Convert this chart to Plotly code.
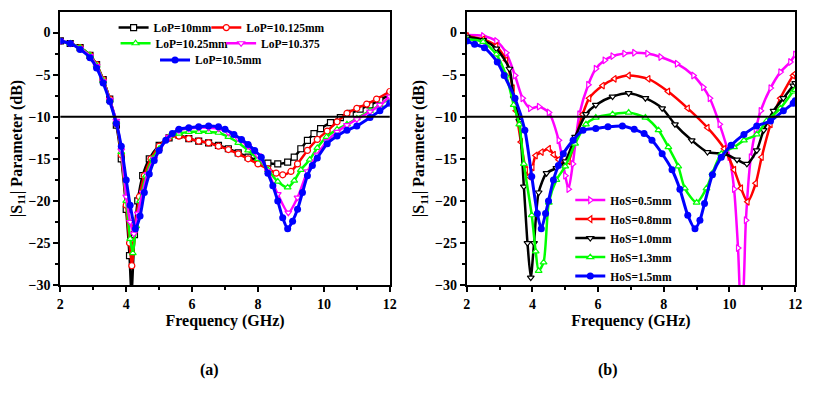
"""Return loss |S11| vs frequency for LoP and HoS parameter sweeps."""

import plotly.graph_objects as go

FONT = "Liberation Serif"

# ---- panel (a): LoP sweep ----
LOP_NAMES = ["LoP=10mm", "LoP=10.125mm", "LoP=10.25mm", "LoP=10.375", "LoP=10.5mm"]

lop10_f = [2.0, 2.3, 2.6, 2.9, 3.1, 3.3, 3.5, 3.7, 3.85, 4.0, 4.1, 4.16, 4.25, 4.35, 4.5, 4.7, 5.0, 5.3,
           5.6, 5.9, 6.2, 6.5, 6.8, 7.1, 7.4, 7.7, 8.0, 8.3, 8.6, 8.9, 9.1, 9.3, 9.5, 9.7, 9.9, 10.2,
           10.5, 10.8, 11.1, 11.4, 11.7, 12.0]
lop10_s = [-1.0, -1.3, -1.8, -2.7, -3.8, -5.6, -7.9, -11.0, -15.0, -21.0, -26.5, -31.0, -24.0, -20.0, -17.0,
           -15.0, -13.4, -12.5, -12.2, -12.6, -12.9, -13.1, -13.4, -13.8, -14.3, -14.8, -15.2, -15.5, -15.6,
           -15.4, -14.8, -13.8, -12.8, -12.0, -11.4, -10.7, -10.1, -9.6, -9.1, -8.6, -8.0, -7.4]

lop10125_f = [2.0, 2.3, 2.6, 2.9, 3.1, 3.3, 3.5, 3.7, 3.85, 4.0, 4.1, 4.17, 4.28, 4.4, 4.55, 4.75, 5.0, 5.3,
              5.6, 5.9, 6.2, 6.5, 6.8, 7.1, 7.4, 7.7, 8.0, 8.3, 8.55, 8.75, 9.0, 9.2, 9.5, 9.8, 10.1, 10.4,
              10.7, 11.0, 11.3, 11.6, 12.0]
lop10125_s = [-1.0, -1.3, -1.8, -2.7, -3.8, -5.6, -7.9, -10.8, -14.5, -20.5, -25.0, -27.7, -23.0, -19.5,
              -17.0, -15.0, -13.5, -12.5, -12.3, -12.6, -12.9, -13.1, -13.5, -13.9, -14.4, -15.0, -15.6,
              -16.2, -16.7, -16.9, -16.5, -15.6, -14.0, -12.7, -11.7, -10.6, -9.6, -9.0, -8.5, -7.9, -7.0]

lop1025_f = [2.0, 2.3, 2.6, 2.9, 3.1, 3.3, 3.5, 3.7, 3.85, 4.0, 4.12, 4.2, 4.3, 4.42, 4.6, 4.8, 5.0, 5.3,
             5.6, 5.9, 6.2, 6.5, 6.8, 7.1, 7.4, 7.7, 8.0, 8.3, 8.6, 8.9, 9.1, 9.3, 9.57, 9.8, 10.08, 10.4,
             10.7, 11.0, 11.4, 11.7, 12.0]
lop1025_s = [-1.0, -1.3, -1.8, -2.7, -3.9, -5.7, -8.0, -10.6, -14.2, -20.0, -24.5, -26.2, -23.0, -20.0,
             -17.0, -15.0, -13.8, -12.4, -12.0, -11.8, -11.8, -11.8, -11.9, -12.4, -13.1, -14.0, -15.0,
             -16.3, -17.7, -18.4, -17.6, -16.3, -15.1, -13.7, -12.4, -11.5, -10.9, -10.2, -9.3, -8.6, -7.8]

lop10375_f = [2.0, 2.3, 2.6, 2.9, 3.1, 3.3, 3.5, 3.7, 3.85, 4.0, 4.12, 4.23, 4.35, 4.5, 4.65, 4.85, 5.0,
              5.3, 5.6, 5.9, 6.2, 6.5, 6.8, 7.1, 7.4, 7.7, 8.0, 8.3, 8.6, 8.92, 9.2, 9.5, 9.8, 10.1, 10.4,
              10.7, 11.0, 11.4, 11.7, 12.0]
lop10375_s = [-1.0, -1.3, -1.9, -2.8, -4.0, -5.8, -8.0, -10.5, -14.0, -19.5, -22.5, -23.9, -21.5, -19.0,
              -16.8, -15.0, -14.0, -12.4, -11.6, -11.4, -11.3, -11.3, -11.4, -11.9, -12.6, -13.5, -14.6,
              -16.5, -19.2, -21.4, -19.6, -16.5, -14.5, -12.9, -11.8, -11.0, -10.3, -9.4, -8.6, -7.6]

lop105_f = [2.0, 2.3, 2.6, 2.9, 3.1, 3.3, 3.5, 3.7, 3.85, 4.0, 4.12, 4.28, 4.42, 4.55, 4.7, 4.85, 5.0, 5.2,
            5.4, 5.6, 5.9, 6.2, 6.5, 6.8, 7.0, 7.27, 7.5, 7.7, 7.9, 8.1, 8.3, 8.45, 8.6, 8.75, 8.9, 9.05,
            9.2, 9.35, 9.5, 9.65, 9.8, 10.1, 10.4, 10.7, 11.0, 11.4, 11.7, 12.0]
lop105_s = [-1.0, -1.3, -2.0, -3.0, -4.2, -6.0, -8.2, -10.8, -13.5, -17.5, -20.5, -23.3, -21.8, -19.0,
            -16.8, -15.2, -14.0, -12.8, -12.0, -11.5, -11.3, -11.2, -11.1, -11.2, -11.5, -12.1, -12.7,
            -13.3, -14.0, -14.8, -16.7, -18.2, -20.0, -22.0, -23.3, -22.4, -21.0, -19.0, -17.0, -15.8,
            -14.9, -13.2, -12.3, -11.6, -11.1, -10.1, -9.3, -8.4]

# ---- panel (b): HoS sweep ----
HOS_NAMES = ["HoS=0.5mm", "HoS=0.8mm", "HoS=1.0mm", "HoS=1.3mm", "HoS=1.5mm"]

hos05_f = [2.0, 2.5, 2.9, 3.2, 3.47, 3.7, 3.93, 4.2, 4.5, 4.8, 5.0, 5.1, 5.23, 5.43, 5.7, 5.93, 6.2, 6.44,
           6.8, 7.1, 7.5, 7.9, 8.4, 8.9, 9.2, 9.4, 9.7, 10.0, 10.14, 10.26, 10.35, 10.42, 10.5, 10.65, 10.8,
           10.95, 11.25, 11.55, 11.85, 12.0]
hos05_s = [-0.3, -0.4, -1.0, -2.4, -5.1, -7.8, -9.0, -8.8, -9.5, -12.8, -17.0, -18.6, -15.6, -9.7, -6.2,
           -4.3, -3.3, -2.8, -2.5, -2.4, -2.5, -2.9, -3.7, -5.1, -6.5, -7.8, -10.9, -14.8, -18.6, -25.6,
           -33.0, -31.0, -22.3, -14.8, -11.5, -9.3, -6.6, -4.7, -3.5, -2.6]

hos08_f = [2.0, 2.5, 2.9, 3.2, 3.4, 3.5, 3.65, 3.8, 3.9, 4.0, 4.1, 4.28, 4.5, 4.65, 4.8, 4.97, 5.1, 5.3,
           5.53, 5.73, 6.14, 6.5, 6.93, 7.53, 8.13, 8.73, 9.33, 9.84, 10.14, 10.35, 10.55, 10.8, 10.98,
           11.25, 11.55, 11.94, 12.0]
hos08_s = [-0.4, -0.8, -1.6, -3.3, -6.6, -9.3, -13.0, -16.3, -17.1, -16.0, -14.6, -14.2, -13.8, -14.5,
           -15.1, -15.7, -15.3, -12.8, -9.7, -7.8, -6.3, -5.5, -5.1, -5.5, -7.0, -9.0, -11.3, -13.8, -16.3,
           -18.5, -20.1, -17.9, -14.8, -10.9, -7.8, -5.1, -4.9]

hos10_f = [2.0, 2.5, 2.9, 3.3, 3.43, 3.6, 3.74, 3.85, 3.95, 4.05, 4.19, 4.43, 4.73, 5.0, 5.3, 5.63, 5.93,
           6.44, 6.93, 7.44, 7.95, 8.34, 8.85, 9.33, 9.84, 10.23, 10.53, 10.83, 11.04, 11.34, 11.64,
           11.94, 12.0]
hos10_s = [-0.5, -0.9, -1.9, -4.3, -7.8, -10.5, -18.3, -25.0, -29.1, -25.0, -19.0, -16.7, -16.1, -15.3,
           -12.4, -9.7, -8.6, -7.6, -7.2, -7.8, -9.0, -10.9, -12.8, -14.2, -14.4, -15.1, -15.6, -14.0,
           -11.6, -9.3, -7.8, -6.3, -6.0]

hos13_f = [2.0, 2.5, 2.9, 3.2, 3.43, 3.6, 3.74, 3.98, 4.1, 4.19, 4.34, 4.5, 4.73, 5.0, 5.3, 5.63, 5.93,
           6.44, 6.93, 7.44, 7.84, 8.14, 8.44, 8.64, 9.0, 9.3, 9.48, 9.75, 10.14, 10.44, 10.83, 11.13,
           11.55, 11.94, 12.0]
hos13_s = [-0.8, -1.1, -2.6, -5.1, -8.6, -10.9, -15.6, -21.7, -26.0, -28.3, -27.3, -20.2, -17.5, -15.9,
           -13.2, -10.9, -10.1, -9.7, -9.5, -10.1, -11.6, -13.6, -15.9, -18.5, -20.2, -18.5, -16.7, -14.4,
           -13.6, -12.8, -12.1, -10.5, -9.0, -7.0, -6.8]

hos15_f = [2.0, 2.24, 2.54, 2.93, 3.14, 3.47, 3.77, 3.98, 4.15, 4.27, 4.4, 4.49, 4.64, 4.79, 4.94, 5.24,
           5.54, 5.93, 6.3, 6.74, 7.1, 7.4, 7.64, 7.95, 8.25, 8.49, 8.73, 8.95, 9.1, 9.24, 9.48, 9.75,
           10.05, 10.44, 10.83, 11.25, 11.64, 11.94, 12.0]
hos15_s = [-1.0, -1.4, -1.8, -3.5, -5.1, -7.8, -11.6, -17.1, -21.5, -23.3, -21.5, -20.0, -17.5, -15.8,
           -14.4, -12.8, -11.6, -11.4, -11.2, -11.1, -11.5, -12.0, -12.8, -14.4, -16.3, -18.6, -21.7,
           -23.3, -22.3, -20.3, -16.9, -14.8, -13.4, -12.1, -11.1, -10.5, -9.3, -8.4, -8.1]

X_TICKS = [2, 4, 6, 8, 10, 12]
Y_TICKS = [0, -5, -10, -15, -20, -25, -30]
THRESHOLD_DB = -10

# the page body keeps its default 8px margin, so the figure is shifted by that much
PAGE_W, PAGE_H, OFFSET = 815, 393, 8
W, H = PAGE_W - OFFSET, PAGE_H - OFFSET


def px_x(px):
    return (px - OFFSET) / W


def px_y(py):
    return 1 - (py - OFFSET) / H


def add_series(fig, f, s, name, color, symbol, axis, legend, filled=False, width=2.5):
    if filled:
        marker = dict(symbol=symbol, size=7, color=color, line=dict(color=color, width=0))
    else:
        marker = dict(symbol=symbol, size=6, color="white", line=dict(color=color, width=1.2))
    fig.add_trace(go.Scatter(
        x=f, y=s, name=name, mode="lines+markers",
        line=dict(color=color, width=width, shape="spline", smoothing=0.7),
        marker=marker, xaxis=f"x{axis}", yaxis=f"y{axis}", legend=legend,
    ))


fig = go.Figure()

# panel (a): each entry gets its own legend so the 2+2+1 arrangement can be placed
add_series(fig, lop10_f, lop10_s, LOP_NAMES[0], "black", "square", "", "legend")
add_series(fig, lop10125_f, lop10125_s, LOP_NAMES[1], "#ff0000", "circle", "", "legend2")
add_series(fig, lop1025_f, lop1025_s, LOP_NAMES[2], "#00ff00", "triangle-up", "", "legend3")
add_series(fig, lop10375_f, lop10375_s, LOP_NAMES[3], "#ff00ff", "triangle-down", "", "legend5")
add_series(fig, lop105_f, lop105_s, LOP_NAMES[4], "#0000ff", "circle", "", "legend6", filled=True, width=3)

# panel (b)
add_series(fig, hos05_f, hos05_s, HOS_NAMES[0], "#ff00ff", "triangle-right", "2", "legend4")
add_series(fig, hos08_f, hos08_s, HOS_NAMES[1], "#ff0000", "triangle-left", "2", "legend4")
add_series(fig, hos10_f, hos10_s, HOS_NAMES[2], "black", "triangle-down", "2", "legend4")
add_series(fig, hos13_f, hos13_s, HOS_NAMES[3], "#00ff00", "triangle-up", "2", "legend4")
add_series(fig, hos15_f, hos15_s, HOS_NAMES[4], "#0000ff", "circle", "2", "legend4", filled=True, width=3)

tick_font = dict(family=FONT, size=14, color="black", weight="bold")
title_font = dict(family=FONT, size=16, color="black", weight="bold")

xaxis_common = dict(
    range=[2, 12], tickvals=X_TICKS, showline=True, linewidth=2, linecolor="black", mirror=True,
    ticks="outside", ticklen=5, tickwidth=2, tickcolor="black", showgrid=False, zeroline=False,
    minor=dict(dtick=1, tick0=2, ticks="outside", ticklen=3, tickwidth=1.5, tickcolor="black"),
    tickfont=tick_font, title=dict(text="Frequency (GHz)", font=title_font, standoff=2),
)
yaxis_common = dict(
    range=[-30, 2.45], tickvals=Y_TICKS, showline=True, linewidth=2, linecolor="black", mirror=True,
    ticks="outside", ticklen=5, tickwidth=2, tickcolor="black", showgrid=False, zeroline=False,
    minor=dict(dtick=2.5, tick0=0, ticks="outside", ticklen=3, tickwidth=1.5, tickcolor="black"),
    tickfont=tick_font,
    title=dict(text="|S<sub>11</sub>| Parameter (dB)", font=title_font, standoff=6),
)

legend_common = dict(
    orientation="h", bgcolor="rgba(0,0,0,0)", borderwidth=0, xanchor="left", yanchor="middle",
    font=dict(family=FONT, size=11.5, color="black", weight="bold"), itemwidth=30,
)

caption_font = dict(family=FONT, size=16, color="black", weight="bold")

fig.update_layout(
    width=W, height=H, margin=dict(l=0, r=0, t=0, b=0),
    paper_bgcolor="white", plot_bgcolor="white", showlegend=True,
    xaxis=dict(domain=[px_x(57), px_x(391)], anchor="y", **xaxis_common),
    yaxis=dict(domain=[px_y(291), px_y(12)], anchor="x", **yaxis_common),
    xaxis2=dict(domain=[px_x(469), px_x(802)], anchor="y2", **xaxis_common),
    yaxis2=dict(domain=[px_y(291), px_y(12)], anchor="x2", **yaxis_common),
    legend=dict(x=px_x(111), y=px_y(28), **legend_common),
    legend2=dict(x=px_x(205), y=px_y(28), **legend_common),
    legend3=dict(x=px_x(113), y=px_y(44), **legend_common),
    legend5=dict(x=px_x(220), y=px_y(44), **legend_common),
    legend6=dict(x=px_x(153), y=px_y(61), **legend_common),
    legend4=dict(x=px_x(574), y=px_y(243), tracegroupgap=0,
                 **{**legend_common, "orientation": "v"}),
    shapes=[
        dict(type="line", xref="x domain", yref="y", x0=0, x1=1, y0=THRESHOLD_DB, y1=THRESHOLD_DB,
             line=dict(color="black", width=2)),
        dict(type="line", xref="x2 domain", yref="y2", x0=0, x1=1, y0=THRESHOLD_DB, y1=THRESHOLD_DB,
             line=dict(color="black", width=2)),
    ],
    annotations=[
        dict(text="(a)", x=px_x(208), y=px_y(378), xref="paper", yref="paper", showarrow=False,
             xanchor="center", yanchor="middle", font=caption_font),
        dict(text="(b)", x=px_x(612), y=px_y(378), xref="paper", yref="paper", showarrow=False,
             xanchor="center", yanchor="middle", font=caption_font),
    ],
)

fig.write_html("out.html", config=dict(displayModeBar=False))
